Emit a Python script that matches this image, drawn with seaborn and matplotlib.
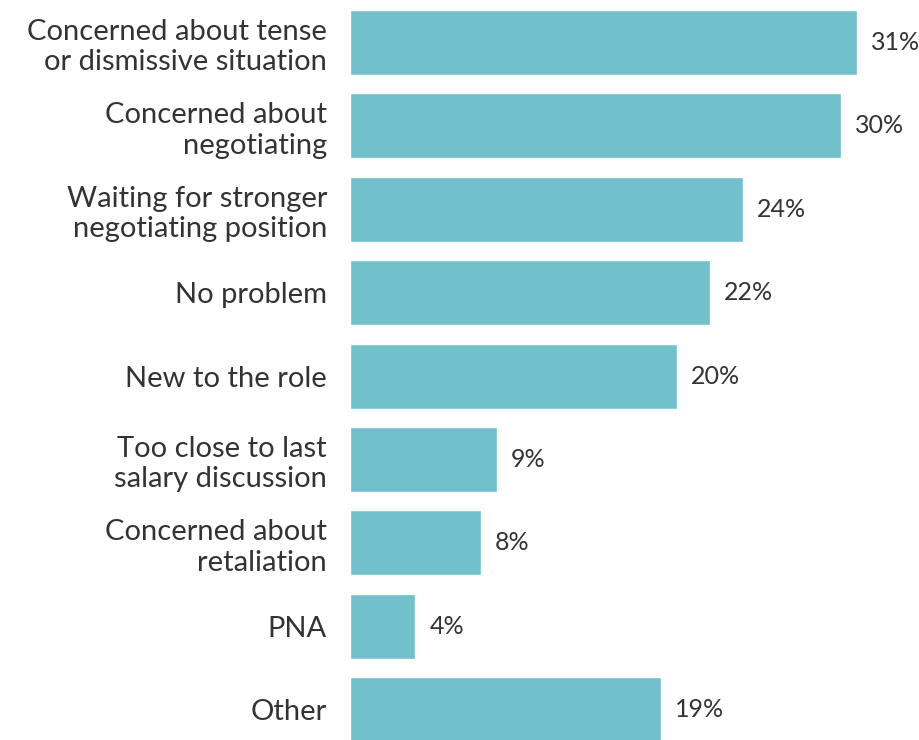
import matplotlib
matplotlib.use("Agg")
import matplotlib.pyplot as plt
import seaborn as sns
import pandas as pd

categories = [
    "Concerned about tense\nor dismissive situation",
    "Concerned about\nnegotiating",
    "Waiting for stronger\nnegotiating position",
    "No problem",
    "New to the role",
    "Too close to last\nsalary discussion",
    "Concerned about\nretaliation",
    "PNA",
    "Other",
]
percentages = [31, 30, 24, 22, 20, 9, 8, 4, 19]

sns.set_theme(style="white")
plt.rcParams["font.family"] = ["Lato", "DejaVu Sans"]

df = pd.DataFrame({"reason": categories, "pct": percentages})

W, H = 919, 740
fig = plt.figure(figsize=(W / 100, H / 100), dpi=100)
px_per_unit = 507 / 31
x_max = 34
ax_left = 350 / W
ax_width = x_max * px_per_unit / W
pitch = 83.4
ax_top_px = 10
ax_height_px = 8.78 * pitch
ax = fig.add_axes([ax_left, (H - ax_top_px - ax_height_px) / H, ax_width, ax_height_px / H])

bar_color = "#72C0CB"
text_color = "#333333"

sns.barplot(data=df, x="pct", y="reason", color=bar_color, saturation=1,
            width=0.78, ax=ax)

ax.set_xlim(0, x_max)
ax.set_ylim(8.39, -0.39)
ax.set_xlabel("")
ax.set_ylabel("")
ax.set_xticks([])
sns.despine(ax=ax, left=True, bottom=True)
ax.tick_params(axis="y", length=0, pad=16.5, labelsize=21, labelcolor=text_color)
for lbl in ax.get_yticklabels():
    lbl.set_linespacing(1.2)

for container in ax.containers:
    ax.bar_label(container, labels=[f"{v}%" for v in percentages], padding=10,
                 fontsize=18, color=text_color)

fig.savefig("out.png", dpi=100)
